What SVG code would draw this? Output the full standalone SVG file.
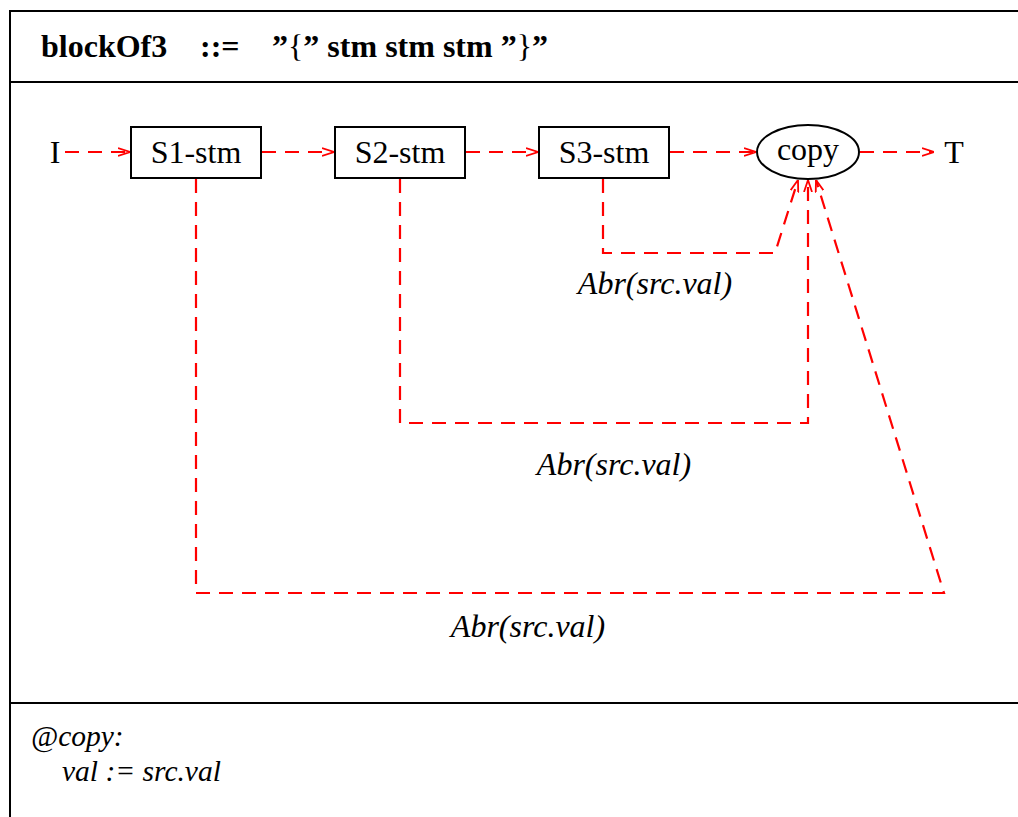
<svg xmlns="http://www.w3.org/2000/svg" width="1018" height="817" viewBox="0 0 1018 817">
  <style>
    .frame { fill: none; stroke: #000; stroke-width: 2; }
    .box { fill: #fff; stroke: #000; stroke-width: 2; }
    .lbl { font-family: "Liberation Serif", "Times New Roman", serif; font-size: 32px; fill: #000; }
    .it { font-style: italic; }
    .bd { font-weight: bold; }
    .sm { font-size: 29.5px; }
    .flow { fill: none; stroke: #ff0000; stroke-width: 2.2; stroke-dasharray: 14 9; }
  </style>
  <defs>
    <marker id="arr" viewBox="0 0 12 10" refX="12" refY="5" markerWidth="12" markerHeight="10" markerUnits="userSpaceOnUse" orient="auto">
      <path d="M0,1 L12,5 L0,9" fill="none" stroke="#ff0000" stroke-width="1.8"/>
    </marker>
  </defs>

  <rect width="1018" height="817" fill="#fff"/>

  <!-- frame: outer border with header and footer dividers -->
  <g id="frame">
    <path class="frame" d="M1020,11 H10 V820"/>
    <line class="frame" x1="10" y1="82" x2="1020" y2="82"/>
    <line class="frame" x1="10" y1="703" x2="1020" y2="703"/>
  </g>

  <!-- production rule heading -->
  <g id="heading">
    <text class="lbl bd" x="41" y="57">blockOf3</text>
    <text class="lbl bd" x="200" y="57">::=</text>
    <text class="lbl" x="272" y="57"><tspan class="bd">”</tspan><tspan>{</tspan><tspan class="bd">” stm stm stm ”</tspan><tspan>}</tspan><tspan class="bd">”</tspan></text>
  </g>

  <!-- connectors -->
  <g id="connectors">
    <line class="flow" x1="65" y1="152" x2="130" y2="152" marker-end="url(#arr)"/>
    <line class="flow" x1="262" y1="152" x2="334" y2="152" marker-end="url(#arr)"/>
    <line class="flow" x1="466" y1="152" x2="538" y2="152" marker-end="url(#arr)"/>
    <line class="flow" x1="670" y1="152" x2="756" y2="152" marker-end="url(#arr)"/>
    <line class="flow" x1="860" y1="152" x2="934" y2="152" marker-end="url(#arr)"/>

    <polyline class="flow" points="603,179 603,253 775,253 798,180" marker-end="url(#arr)"/>
    <polyline class="flow" points="400,179 400,423 808,423 808,180" marker-end="url(#arr)"/>
    <polyline class="flow" points="196,179 196,593 944,593 816,180" marker-end="url(#arr)"/>

    <text class="lbl it" x="655" y="294" text-anchor="middle">Abr(src.val)</text>
    <text class="lbl it" x="614" y="475" text-anchor="middle">Abr(src.val)</text>
    <text class="lbl it" x="528" y="637" text-anchor="middle">Abr(src.val)</text>
  </g>

  <!-- terminals -->
  <g id="I">
    <text class="lbl" x="55" y="163" text-anchor="middle">I</text>
  </g>
  <g id="T">
    <text class="lbl" x="954" y="163" text-anchor="middle">T</text>
  </g>

  <!-- nodes -->
  <g id="S1-stm">
    <rect class="box" x="131" y="127" width="130" height="51"/>
    <text class="lbl" x="196" y="163" text-anchor="middle">S1-stm</text>
  </g>
  <g id="S2-stm">
    <rect class="box" x="335" y="127" width="130" height="51"/>
    <text class="lbl" x="400" y="163" text-anchor="middle">S2-stm</text>
  </g>
  <g id="S3-stm">
    <rect class="box" x="539" y="127" width="130" height="51"/>
    <text class="lbl" x="604" y="163" text-anchor="middle">S3-stm</text>
  </g>
  <g id="copy">
    <ellipse class="box" cx="808" cy="152" rx="51" ry="27"/>
    <text class="lbl" x="808" y="160" text-anchor="middle">copy</text>
  </g>

  <!-- semantic rule -->
  <g id="rule">
    <text class="lbl it sm" x="31" y="746">@copy:</text>
    <text class="lbl it sm" x="62" y="781">val := src.val</text>
  </g>
</svg>
